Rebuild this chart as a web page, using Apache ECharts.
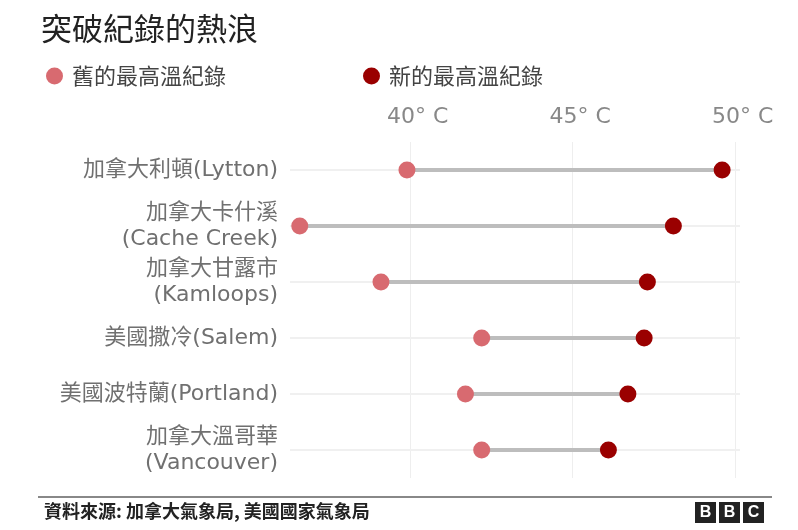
<!DOCTYPE html>
<html>
<head>
<meta charset="utf-8">
<script src="https://cdn.jsdelivr.net/npm/echarts@6/dist/echarts.min.js"></script>
<style>
  html, body { margin: 0; padding: 0; background: #fff; }
  #chart { width: 798px; height: 530px; }
</style>
</head>
<body>
<div id="chart"></div>
<script>
// places, top to bottom
var places = [
    '加拿大利頓(Lytton)',
    '加拿大卡什溪\n(Cache Creek)',
    '加拿大甘露市\n(Kamloops)',
    '美國撒冷(Salem)',
    '美國波特蘭(Portland)',
    '加拿大溫哥華\n(Vancouver)'
];
var oldRecord = [39.9, 36.6, 39.1, 42.2, 41.7, 42.2];
var newRecord = [49.6, 48.1, 47.3, 47.2, 46.7, 46.1];
var tickValues = [40, 45, 50];

var oldColor = '#d86a70',
    newColor = '#9a0000',
    fontFamily = '"DejaVu Sans", "Noto Sans CJK TC", sans-serif',
    cjkFont = '"Noto Sans CJK TC", sans-serif';

var chart = echarts.init(document.getElementById('chart'));

var oldData = oldRecord.map(function (v, i) { return [v, i]; }),
    newData = newRecord.map(function (v, i) { return [v, i]; }),
    pairs = oldRecord.map(function (v, i) { return [i, v, newRecord[i]]; });

var option = {
    backgroundColor: '#fff',
    animation: false,
    title: {
        text: '突破紀錄的熱浪',
        left: 36,
        top: 8,
        textStyle: {
            fontFamily: cjkFont,
            fontSize: 31,
            fontWeight: 'normal',
            color: '#222'
        }
    },
    legend: {
        left: 41,
        top: 60,
        icon: 'circle',
        itemWidth: 17,
        itemHeight: 17,
        itemGap: 137,
        data: ['舊的最高溫紀錄', '新的最高溫紀錄'],
        textStyle: {
            fontFamily: cjkFont,
            fontSize: 22,
            color: '#444',
            padding: [0, 0, 0, 4]
        }
    },
    grid: {
        left: 290,
        right: 58,
        top: 142,
        height: 336
    },
    xAxis: {
        type: 'value',
        position: 'top',
        min: 36.3,
        max: 50.15,
        axisLine: { show: false },
        axisTick: { show: false, customValues: tickValues },
        axisLabel: {
            customValues: tickValues,
            margin: 14,
            fontFamily: fontFamily,
            fontSize: 22,
            color: '#888',
            padding: [0, 0, 0, 15],
            formatter: function (v) { return v + '° C'; }
        },
        splitLine: { show: true, lineStyle: { color: '#eeeeee', width: 1 } }
    },
    yAxis: {
        type: 'category',
        inverse: true,
        data: places,
        axisLine: { show: false },
        axisTick: { show: false },
        splitLine: { show: false },
        axisLabel: {
            margin: 12,
            fontFamily: fontFamily,
            fontSize: 22,
            lineHeight: 26,
            color: '#707070',
            align: 'right'
        }
    },
    series: [
        {
            // faint row guide lines
            type: 'custom',
            silent: true,
            z: 1,
            data: places.map(function (p, i) { return [i]; }),
            renderItem: function (params, api) {
                var y = api.coord([0, api.value(0)])[1],
                    cs = params.coordSys;
                return {
                    type: 'line',
                    shape: { x1: cs.x, y1: y, x2: cs.x + cs.width, y2: y },
                    style: { stroke: '#f0f0f0', lineWidth: 2 }
                };
            }
        },
        {
            // connector between old and new
            type: 'custom',
            silent: true,
            z: 2,
            data: pairs,
            encode: { x: [1, 2], y: 0 },
            renderItem: function (params, api) {
                var a = api.coord([api.value(1), api.value(0)]),
                    b = api.coord([api.value(2), api.value(0)]);
                return {
                    type: 'line',
                    shape: { x1: a[0], y1: a[1], x2: b[0], y2: b[1] },
                    style: { stroke: '#bdbdbd', lineWidth: 4 }
                };
            }
        },
        {
            name: '舊的最高溫紀錄',
            type: 'scatter',
            z: 3,
            symbolSize: 17,
            itemStyle: { color: oldColor, opacity: 1 },
            data: oldData
        },
        {
            name: '新的最高溫紀錄',
            type: 'scatter',
            z: 3,
            symbolSize: 17,
            itemStyle: { color: newColor, opacity: 1 },
            data: newData
        }
    ],
    graphic: [
        {
            type: 'line',
            shape: { x1: 38, y1: 497, x2: 772, y2: 497 },
            style: { stroke: '#888', lineWidth: 2 }
        },
        {
            type: 'text',
            left: 44,
            top: 502,
            style: {
                text: '資料來源: 加拿大氣象局, 美國國家氣象局',
                fontFamily: cjkFont,
                fontSize: 18,
                fontWeight: 'bold',
                fill: '#222'
            }
        },
        {
            type: 'group',
            left: 695,
            top: 502,
            children: ['B', 'B', 'C'].map(function (ch, i) {
                return {
                    type: 'group',
                    x: i * 24,
                    children: [
                        { type: 'rect', shape: { x: 0, y: 0, width: 21, height: 21 }, style: { fill: '#222' } },
                        {
                            type: 'text',
                            x: 10.5, y: 11,
                            style: {
                                text: ch, fill: '#fff', fontSize: 16, fontWeight: 'bold',
                                fontFamily: 'Arial, "Liberation Sans", sans-serif',
                                align: 'center', verticalAlign: 'middle'
                            }
                        }
                    ]
                };
            })
        }
    ]
};

chart.setOption(option);
</script>
</body>
</html>
